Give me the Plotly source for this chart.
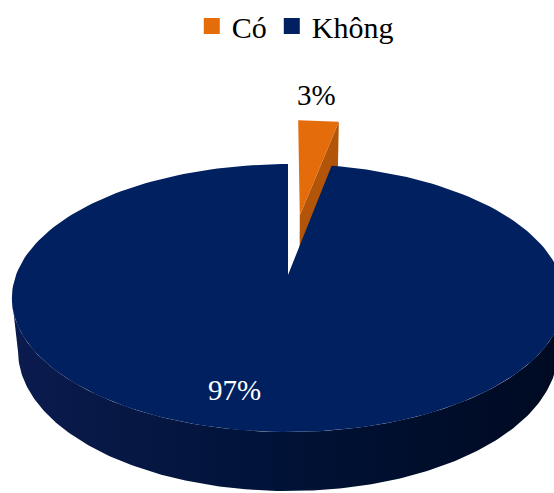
import numpy as np
import plotly.graph_objects as go

# Survey answers (share of respondents, %)
labels = ["Có", "Không"]
values = [3, 97]
colors_top = ["#E46C0A", "#002060"]
colors_cut = ["#B35508", "#001440"]
side_left, side_right = "#0b1b4e", "#000a22"
explode = [0.5, 0.0]

SERIF = "Liberation Serif"

W, H = 554, 493
# simple pinhole projection of a unit-radius disc (top at Z=0, bottom at Z=-1)
CX, CY = 288.0, 275.0
A, B, C = 272.0, 130.0, 53.6
K, M = 0.172, 0.022


def project(X, Y, Z):
    w = 1.0 + K * Y - M * Z
    return CX + A * X / w, CY - B * Y / w - C * Z / w


def rim(t0, t1, ox, oy, Z, n=200):
    t = np.linspace(t0, t1, n)
    return project(ox + np.sin(t), oy + np.cos(t), Z)


fig = go.Figure()

total = float(sum(values))
starts = np.cumsum([0] + values[:-1]) / total * 2 * np.pi
ends = np.cumsum(values) / total * 2 * np.pi

# paint back slices first (exploded orange piece sits behind the big slice)
for i in range(len(values)):
    t0, t1 = starts[i], ends[i]
    mid = 0.5 * (t0 + t1)
    ox, oy = explode[i] * np.sin(mid), explode[i] * np.cos(mid)

    if explode[i] > 0:
        # radial cut face at the slice's clockwise end, facing the viewer
        vx0, vy0 = project(ox, oy, 0)
        vx1, vy1 = project(ox, oy, -1)
        px0, py0 = project(ox + np.sin(t1), oy + np.cos(t1), 0)
        px1, py1 = project(ox + np.sin(t1), oy + np.cos(t1), -1)
        fig.add_trace(go.Scatter(
            x=[vx0, px0, px1, vx1, vx0], y=[vy0, py0, py1, vy1, vy0],
            fill="toself", fillcolor=colors_cut[i], mode="lines",
            line=dict(width=0, color=colors_cut[i]),
            hoverinfo="skip", showlegend=False))
    else:
        # outer wall: front-facing part of the rim between the silhouette points
        tt = np.linspace(0, 2 * np.pi, 3601)
        xs, _ = project(np.sin(tt), np.cos(tt), 0)
        tr = tt[np.argmax(xs)]
        tl = tt[np.argmin(xs)]
        a0, a1 = max(tr, t0), min(tl, t1)
        tx, ty = rim(a0, a1, ox, oy, 0)
        bx, by = rim(a1, a0, ox, oy, -1)
        fig.add_trace(go.Scatter(
            x=np.concatenate([tx, bx, tx[:1]]), y=np.concatenate([ty, by, ty[:1]]),
            fill="toself", mode="lines", line=dict(width=0, color=side_right),
            fillgradient=dict(type="horizontal",
                              colorscale=[[0, side_left], [0.5, "#001236"], [1, side_right]]),
            hoverinfo="skip", showlegend=False))

    # top face of the slice
    vx, vy = project(ox, oy, 0)
    ax, ay = rim(t0, t1, ox, oy, 0)
    fig.add_trace(go.Scatter(
        x=np.concatenate([[vx], ax, [vx]]), y=np.concatenate([[vy], ay, [vy]]),
        fill="toself", fillcolor=colors_top[i], mode="lines",
        line=dict(width=0, color=colors_top[i]),
        hoverinfo="skip", showlegend=False))

# legend entries
for lab, col in zip(labels, colors_top):
    fig.add_trace(go.Scatter(
        x=[None], y=[None], mode="markers", name=lab,
        marker=dict(symbol="square", size=16, color=col)))

# percentage labels
m0 = 0.5 * (starts[0] + ends[0])
ox0, oy0 = explode[0] * np.sin(m0), explode[0] * np.cos(m0)
lx, ly = project(ox0 + np.sin(m0), oy0 + np.cos(m0), 0)
fig.add_annotation(x=lx - 2, y=ly - 8, text=f"{values[0]}%", showarrow=False,
                   xanchor="center", yanchor="bottom",
                   font=dict(family=SERIF, size=29, color="black"))
fig.add_annotation(x=234, y=390, text=f"{values[1]}%", showarrow=False,
                   xanchor="center", yanchor="middle",
                   font=dict(family=SERIF, size=29, color="white"))

fig.update_layout(
    width=W, height=H, margin=dict(l=0, r=0, t=0, b=0),
    paper_bgcolor="white", plot_bgcolor="white",
    font=dict(family=SERIF),
    xaxis=dict(range=[0, W], visible=False, fixedrange=True),
    yaxis=dict(range=[H, 0], visible=False, fixedrange=True),
    showlegend=True,
    legend=dict(orientation="h", x=0.533, xanchor="center", y=1.0, yanchor="top",
                font=dict(family=SERIF, size=30, color="black"),
                itemwidth=30, tracegroupgap=0, bgcolor="rgba(0,0,0,0)"),
)

fig.write_html("out.html")
